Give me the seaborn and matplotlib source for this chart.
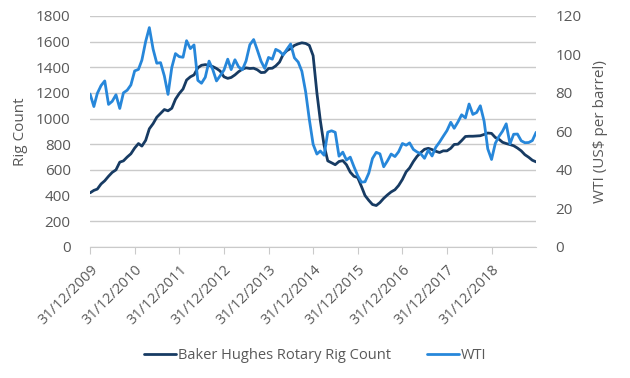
import numpy as np
import pandas as pd
import matplotlib
matplotlib.use('Agg')
import matplotlib.pyplot as plt
import seaborn as sns

# month-end values, Dec 2009 .. Dec 2019
rig_count = [
    421,
    440, 450, 490, 515, 550, 580, 600, 660, 670, 700, 725, 770,
    805, 785, 830, 920, 960, 1010, 1040, 1070, 1060, 1080, 1150, 1195,
    1230, 1300, 1325, 1340, 1395, 1415, 1420, 1415, 1405, 1390, 1370, 1325,
    1313, 1320, 1340, 1365, 1385, 1395, 1390, 1392, 1380, 1358, 1360, 1390,
    1392, 1410, 1440, 1500, 1530, 1545, 1570, 1582, 1590, 1585, 1570, 1490,
    1200, 985, 790, 670, 655, 640, 665, 672, 640, 582, 550, 540,
    470, 400, 362, 330, 322, 345, 378, 405, 428, 445, 478, 525,
    585, 615, 665, 705, 735, 760, 768, 758, 745, 735, 748, 748,
    768, 798, 800, 828, 860, 862, 862, 864, 866, 876, 887, 884,
    852, 840, 815, 805, 797, 788, 770, 748, 718, 698, 675, 662,
]
wti = [
    79.4,
    72.9, 79.7, 83.8, 86.2, 74.0, 75.6, 79.0, 71.9, 80.0, 81.4, 84.1, 91.4,
    92.2, 97.0, 106.7, 113.9, 102.7, 95.4, 95.7, 88.8, 79.2, 93.2, 100.4, 98.8,
    98.5, 107.1, 103.0, 104.9, 86.5, 85.0, 88.1, 96.5, 92.2, 86.2, 88.9, 91.8,
    97.5, 92.1, 97.2, 93.5, 92.0, 96.6, 105.0, 107.7, 102.3, 96.4, 92.7, 98.4,
    97.5, 102.6, 101.6, 99.7, 102.7, 105.4, 98.2, 96.0, 91.2, 80.5, 66.2, 53.3,
    48.2, 49.8, 47.6, 59.6, 60.3, 59.5, 47.1, 49.2, 45.1, 46.6, 41.7, 37.0,
    33.6, 33.8, 38.3, 45.9, 49.1, 48.3, 41.6, 44.7, 48.2, 46.9, 49.4, 53.7,
    52.8, 54.0, 50.6, 49.3, 48.3, 46.0, 50.2, 47.2, 51.7, 54.4, 57.4, 60.4,
    64.7, 61.6, 64.9, 68.6, 67.0, 74.2, 68.8, 69.8, 73.3, 65.3, 50.9, 45.4,
    53.8, 57.2, 60.1, 63.9, 53.5, 58.5, 58.6, 55.1, 54.1, 54.2, 55.2, 59.5,
]
dates = pd.date_range('2009-12-31', periods=len(rig_count), freq='ME')
tick_dates = pd.date_range('2009-12-31', '2018-12-31', freq='YE')
tick_labels = [d.strftime('%d/%m/%Y') for d in tick_dates]

df = pd.DataFrame({'date': dates, 'rig': rig_count, 'wti': wti})

DARK = '#173B63'
LIGHT = '#2787DA'
GREY = '#595959'
GRID = '#CACACA'

sns.set_style('white')
plt.rcParams['font.family'] = ['Open Sans', 'DejaVu Sans']

fig = plt.figure(figsize=(6.3, 3.78), dpi=100)
ax = fig.add_axes([0.143, 0.347, 0.708, 0.611])
ax2 = ax.twinx()

sns.lineplot(data=df, x='date', y='rig', ax=ax, color=DARK, linewidth=2,
             label='Baker Hughes Rotary Rig Count', legend=False)
sns.lineplot(data=df, x='date', y='wti', ax=ax2, color=LIGHT, linewidth=2,
             label='WTI', legend=False)

ax.set_ylim(0, 1800)
ax.set_yticks(range(0, 1801, 200))
ax2.set_ylim(0, 120)
ax2.set_yticks(range(0, 121, 20))
ax.set_xlim(dates[0], dates[-1])
ax.set_xticks(tick_dates)
ax.set_xticklabels(tick_labels, rotation=45, ha='right', rotation_mode='anchor')

ax.grid(True, axis='y', color=GRID, linewidth=1)
for a in (ax, ax2):
    for s in a.spines.values():
        s.set_visible(False)
ax.spines['bottom'].set_visible(True)
ax.spines['bottom'].set_color(GRID)
ax.tick_params(axis='x', length=5, color=GRID, labelsize=10.5,
               labelcolor=GREY, pad=6, direction='out', bottom=True)
ax.tick_params(axis='y', length=0, labelsize=11, labelcolor=GREY, pad=14)
ax2.tick_params(axis='y', length=0, labelsize=11, labelcolor=GREY, pad=14)

ax.set_xlabel('')
ax.set_ylabel('Rig Count', fontsize=11, color=GREY, labelpad=6)
ax2.set_ylabel('WTI (US$ per barrel)', fontsize=11, color=GREY, labelpad=8)

handles = ax.get_lines()[:1] + ax2.get_lines()[:1]
fig.legend(handles, ['Baker Hughes Rotary Rig Count', 'WTI'],
           loc='center', bbox_to_anchor=(0.5, 0.06), ncol=2, frameon=False,
           fontsize=10.5, labelcolor=GREY, handlelength=2.2, handletextpad=0.1,
           columnspacing=2.5)

fig.savefig('out.png', dpi=100)
